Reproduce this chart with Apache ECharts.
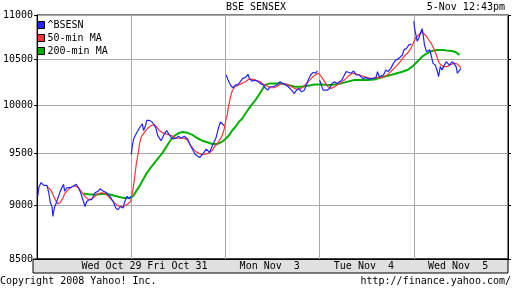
<!DOCTYPE html>
<html><head><meta charset="utf-8">
<script src="https://cdn.jsdelivr.net/npm/echarts@6/dist/echarts.min.js"></script>
<style>html,body{margin:0;padding:0;background:#fff}#c{width:512px;height:288px}</style>
</head><body><div id="c"></div>
<script>
const FONT = '"DejaVu Sans Mono", "Liberation Mono", monospace';
const chartTitle = 'BSE SENSEX';
const stampText = '5-Nov 12:43pm';
const copyText = 'Copyright 2008 Yahoo! Inc.';
const urlText = 'http://finance.yahoo.com/';
const seriesNames = ['^BSESN', '50-min MA', '200-min MA'];
const yTicks = [8500, 9000, 9500, 10000, 10500, 11000];
const dayLabels = ['Wed Oct 29', 'Fri Oct 31', 'Mon Nov  3', 'Tue Nov  4', 'Wed Nov  5'];
const dayLabelPos = [0.79, 1.49, 2.47, 3.47, 4.47];

// x = trading day position (day index + fraction of session)
const bseD1 = [[0.007,9082],[0.018,9168],[0.042,9215],[0.053,9225],[0.071,9188],[0.088,9181],[0.105,9188],[0.123,9119],[0.141,9020],[0.158,8985],[0.168,8891],[0.183,8972],[0.204,9020],[0.218,9033],[0.228,9082],[0.246,9132],[0.263,9165],[0.281,9198],[0.292,9132],[0.316,9165],[0.334,9181],[0.352,9165],[0.386,9181],[0.415,9198],[0.439,9165],[0.463,9116],[0.492,9033],[0.509,8985],[0.526,9033],[0.555,9050],[0.579,9050],[0.615,9116],[0.649,9132],[0.667,9155],[0.702,9132],[0.737,9116],[0.773,9082],[0.807,9033],[0.836,8970],[0.860,8954],[0.884,8985],[0.913,8970],[0.931,9033],[0.955,9082],[0.976,9057],[0.994,9082]];
const bseD2 = [[1.000,9494],[1.011,9580],[1.025,9650],[1.042,9684],[1.060,9702],[1.081,9754],[1.095,9772],[1.116,9806],[1.131,9736],[1.152,9788],[1.165,9840],[1.194,9840],[1.221,9824],[1.246,9788],[1.263,9754],[1.281,9684],[1.299,9668],[1.316,9632],[1.334,9668],[1.352,9702],[1.376,9736],[1.397,9702],[1.422,9668],[1.446,9650],[1.474,9657],[1.502,9678],[1.526,9657],[1.562,9678],[1.597,9650],[1.621,9598],[1.649,9546],[1.678,9494],[1.702,9478],[1.726,9462],[1.755,9494],[1.773,9478],[1.797,9546],[1.818,9564],[1.832,9512],[1.853,9564],[1.878,9616],[1.902,9668],[1.923,9754],[1.947,9824],[1.965,9840],[1.983,9788]];
const bseD3 = [[2.007,10324],[2.028,10269],[2.053,10215],[2.078,10186],[2.105,10215],[2.134,10222],[2.158,10252],[2.183,10288],[2.211,10296],[2.239,10332],[2.253,10288],[2.281,10258],[2.316,10269],[2.344,10252],[2.368,10233],[2.404,10215],[2.421,10186],[2.449,10160],[2.474,10197],[2.492,10179],[2.509,10197],[2.544,10215],[2.579,10252],[2.604,10233],[2.632,10222],[2.667,10197],[2.702,10160],[2.731,10124],[2.755,10160],[2.779,10179],[2.807,10143],[2.836,10160],[2.860,10215],[2.878,10269],[2.905,10324],[2.931,10354],[2.955,10343],[2.976,10368]];
const bseD4 = [[3.000,10269],[3.018,10215],[3.036,10160],[3.053,10143],[3.081,10160],[3.105,10179],[3.131,10233],[3.158,10252],[3.186,10233],[3.211,10252],[3.236,10269],[3.263,10324],[3.281,10361],[3.305,10354],[3.334,10343],[3.362,10368],[3.386,10324],[3.421,10324],[3.457,10288],[3.492,10296],[3.526,10280],[3.562,10288],[3.597,10296],[3.615,10361],[3.632,10307],[3.649,10288],[3.678,10324],[3.702,10379],[3.726,10361],[3.755,10397],[3.783,10452],[3.807,10488],[3.842,10507],[3.878,10545],[3.895,10602],[3.924,10621],[3.948,10659],[3.973,10667]];
const bseD5 = [[4.000,10927],[4.007,10850],[4.018,10793],[4.036,10698],[4.053,10736],[4.071,10793],[4.088,10842],[4.099,10773],[4.113,10659],[4.134,10584],[4.148,10584],[4.169,10602],[4.183,10545],[4.204,10452],[4.228,10433],[4.246,10379],[4.263,10307],[4.281,10416],[4.299,10379],[4.316,10416],[4.344,10470],[4.358,10488],[4.379,10433],[4.404,10470],[4.428,10452],[4.449,10416],[4.463,10343],[4.484,10361],[4.499,10397]];

const ma50 = [[0.105,9175],[0.141,9149],[0.168,9099],[0.193,9050],[0.218,9010],[0.246,9023],[0.274,9067],[0.299,9116],[0.334,9149],[0.369,9175],[0.404,9181],[0.439,9165],[0.474,9122],[0.509,9082],[0.544,9050],[0.579,9057],[0.615,9082],[0.649,9109],[0.684,9116],[0.720,9109],[0.755,9082],[0.789,9050],[0.825,9017],[0.860,8991],[0.895,8985],[0.931,8991],[0.965,9010],[0.994,9033],
[1.018,9149],[1.036,9267],[1.053,9396],[1.071,9494],[1.089,9605],[1.105,9671],[1.116,9684],[1.141,9720],[1.176,9761],[1.211,9788],[1.246,9796],[1.271,9772],[1.299,9736],[1.334,9712],[1.368,9702],[1.404,9692],[1.439,9678],[1.474,9657],[1.509,9657],[1.544,9657],[1.579,9650],[1.607,9622],[1.632,9580],[1.667,9538],[1.702,9511],[1.737,9494],[1.773,9494],[1.818,9504],[1.853,9528],[1.888,9574],[1.923,9616],[1.958,9668],[1.983,9736],
[2.007,9858],[2.018,9892],[2.028,9962],[2.042,10033],[2.053,10088],[2.071,10151],[2.099,10197],[2.141,10215],[2.176,10233],[2.211,10250],[2.247,10277],[2.281,10280],[2.316,10269],[2.352,10258],[2.379,10244],[2.404,10222],[2.439,10208],[2.474,10186],[2.509,10186],[2.544,10197],[2.579,10222],[2.615,10233],[2.649,10222],[2.684,10208],[2.720,10186],[2.755,10171],[2.789,10171],[2.825,10197],[2.860,10233],[2.895,10269],[2.931,10307],[2.966,10332],[2.991,10343],
[3.018,10307],[3.053,10252],[3.088,10197],[3.123,10179],[3.158,10197],[3.194,10222],[3.229,10244],[3.263,10269],[3.299,10307],[3.334,10332],[3.368,10343],[3.404,10332],[3.439,10318],[3.474,10307],[3.509,10296],[3.544,10288],[3.579,10290],[3.615,10299],[3.668,10296],[3.720,10324],[3.755,10361],[3.789,10397],[3.825,10433],[3.860,10477],[3.895,10526],[3.931,10564],[3.966,10613],[3.994,10679],
[4.018,10736],[4.053,10773],[4.088,10804],[4.105,10793],[4.134,10755],[4.158,10716],[4.183,10679],[4.211,10621],[4.239,10545],[4.263,10470],[4.288,10433],[4.316,10416],[4.352,10416],[4.386,10433],[4.421,10452],[4.449,10452],[4.474,10433],[4.499,10405]];

const ma200 = [[0.492,9109],[0.562,9099],[0.632,9099],[0.702,9106],[0.773,9099],[0.842,9082],[0.913,9067],[0.983,9067],
[1.018,9082],[1.053,9132],[1.088,9181],[1.123,9240],[1.158,9297],[1.194,9346],[1.228,9386],[1.263,9428],[1.299,9472],[1.334,9512],[1.368,9564],[1.404,9619],[1.439,9666],[1.474,9692],[1.509,9712],[1.544,9720],[1.597,9712],[1.649,9692],[1.702,9657],[1.755,9632],[1.807,9616],[1.860,9598],[1.913,9598],[1.965,9622],
[2.000,9650],[2.036,9684],[2.071,9736],[2.105,9772],[2.141,9824],[2.176,9858],[2.211,9910],[2.247,9962],[2.281,10009],[2.316,10051],[2.352,10105],[2.386,10160],[2.421,10217],[2.474,10233],[2.526,10233],[2.597,10233],[2.667,10215],[2.737,10197],[2.807,10197],[2.878,10208],[2.947,10222],
[3.018,10222],[3.088,10215],[3.158,10222],[3.229,10233],[3.299,10252],[3.368,10269],[3.439,10269],[3.509,10269],[3.579,10274],[3.649,10296],[3.755,10324],[3.860,10354],[3.931,10379],[3.983,10416],
[4.036,10470],[4.088,10526],[4.141,10564],[4.194,10590],[4.246,10602],[4.299,10602],[4.352,10595],[4.404,10590],[4.449,10576],[4.484,10545]];

const bseDays = [bseD1, bseD2, bseD3, bseD4, bseD5];
const bseData = [];
bseDays.forEach((d, i) => { if (i) bseData.push([i, '-']); d.forEach(p => bseData.push(p)); });

const colors = ['#2323ff', '#ff3333', '#00b000'];
const chart = echarts.init(document.getElementById('c'), null, {renderer: 'canvas'});
const txt = {fontFamily: FONT, fontSize: 10, color: '#000'};
chart.setOption({
  animation: false,
  color: colors,
  grid: {left: 33, right: 4, top: 15, bottom: 29, show: true, borderColor: '#000', borderWidth: 1, backgroundColor: 'transparent'},
  legend: {
    orient: 'vertical', left: 37, top: 20, padding: 0, itemWidth: 7, itemHeight: 7, itemGap: 3,
    icon: 'rect', itemStyle: {borderColor: '#000', borderWidth: 1},
    textStyle: Object.assign({padding: [0,0,0,-2]}, txt),
    data: seriesNames
  },
  xAxis: {
    type: 'value', min: 0, max: 5, interval: 1,
    axisLine: {show: true, lineStyle: {color: '#000'}},
    axisTick: {show: false},
    splitLine: {show: true, lineStyle: {color: '#aaaaaa', width: 1}},
    axisLabel: Object.assign({customValues: dayLabelPos, margin: 2, formatter: (v) => {
      const i = dayLabelPos.findIndex(p => Math.abs(p - v) < 1e-6); return i >= 0 ? dayLabels[i] : ''; }}, txt)
  },
  yAxis: [{
    type: 'log', logBase: 10, min: 8500, max: 11000, position: 'left',
    axisLine: {show: true, lineStyle: {color: '#000'}},
    axisTick: {show: true, customValues: yTicks, length: 3, lineStyle: {color: '#000'}},
    splitLine: {show: true, lineStyle: {color: '#aaaaaa', width: 1}},
    axisLabel: Object.assign({customValues: yTicks, margin: 4, formatter: v => String(Math.round(v))}, txt)
  }, {
    type: 'log', logBase: 10, min: 8500, max: 11000, position: 'right',
    axisLine: {show: true, lineStyle: {color: '#000'}},
    axisTick: {show: true, customValues: yTicks, length: 3, lineStyle: {color: '#000'}},
    splitLine: {show: false}, axisLabel: {show: false}
  }],
  graphic: [
    {type: 'rect', z: -10, shape: {x: 33, y: 259, width: 475, height: 14}, style: {fill: '#e0e0e0', stroke: '#000', lineWidth: 1}},
    {type: 'text', x: 256, y: 7, style: {text: chartTitle, font: '10px ' + FONT, fill: '#000', align: 'center', verticalAlign: 'middle'}},
    {type: 'text', x: 505, y: 7, style: {text: stampText, font: '10px ' + FONT, fill: '#000', align: 'right', verticalAlign: 'middle'}},
    {type: 'text', x: 0, y: 281, style: {text: copyText, font: '10px ' + FONT, fill: '#000', align: 'left', verticalAlign: 'middle'}},
    {type: 'text', x: 511, y: 281, style: {text: urlText, font: '10px ' + FONT, fill: '#000', align: 'right', verticalAlign: 'middle'}}
  ],
  series: [
    {name: seriesNames[0], type: 'line', data: bseData, showSymbol: false, connectNulls: false, lineStyle: {width: 1.2, color: colors[0]}, itemStyle: {color: colors[0]}, z: 5},
    {name: seriesNames[1], type: 'line', data: ma50, showSymbol: false, lineStyle: {width: 1.2, color: colors[1]}, itemStyle: {color: colors[1]}, z: 4},
    {name: seriesNames[2], type: 'line', data: ma200, showSymbol: false, lineStyle: {width: 2, color: colors[2]}, itemStyle: {color: colors[2]}, z: 3}
  ]
});
</script></body></html>
